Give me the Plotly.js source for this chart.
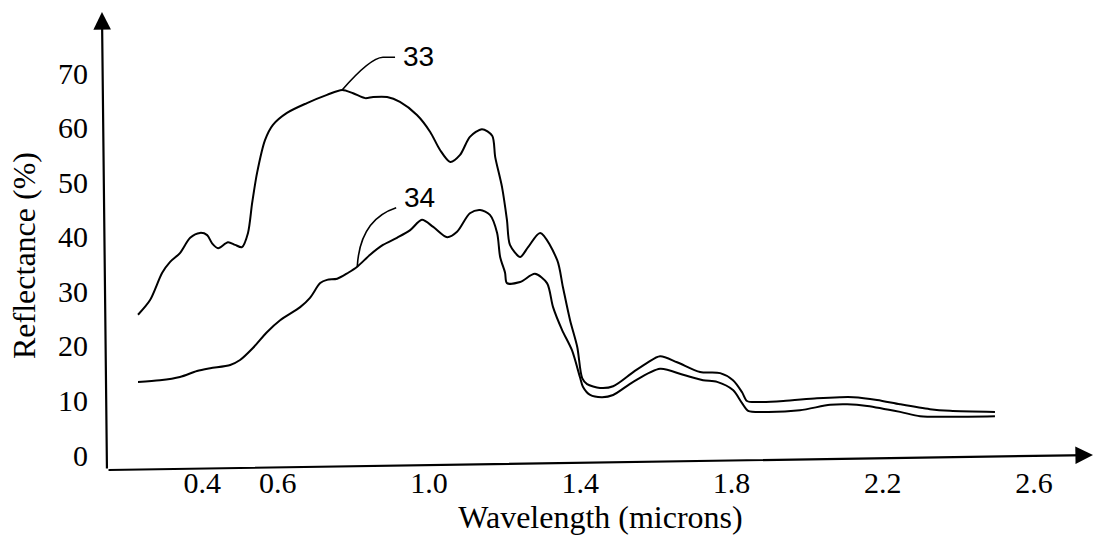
<!DOCTYPE html>
<html>
<head>
<meta charset="utf-8">
<script src="https://cdn.plot.ly/plotly-3.0.1.min.js"></script>
<style>html,body{margin:0;padding:0;background:#fff;}#chart{width:1094px;height:535px;}</style>
</head>
<body>
<div id="chart"></div>
<script>
// Curve 33 (upper) — wavelength (microns) and reflectance (%)
const wavelength33 = [0.230,0.262,0.294,0.315,0.341,0.368,0.394,0.413,0.426,0.442,0.468,0.487,0.505,0.521,0.532,0.545,0.566,0.587,0.624,0.677,0.730,0.770,0.799,0.831,0.852,0.889,0.923,0.968,1.003,1.029,1.056,1.082,1.108,1.140,1.167,1.175,1.193,1.206,1.214,1.241,1.262,1.294,1.339,1.354,1.373,1.392,1.405,1.418,1.452,1.487,1.540,1.577,1.611,1.656,1.717,1.770,1.804,1.828,1.841,1.868,1.937,2.026,2.087,2.122,2.185,2.246,2.325,2.378,2.497];
const reflect33 = [25.7,28.4,33.4,35.4,37.0,39.8,40.7,40.3,38.8,37.9,39.0,38.5,38.1,40.7,46.2,51.7,57.7,60.5,62.7,64.5,66.0,66.9,66.3,65.4,65.6,65.6,64.7,62.3,59.2,55.9,53.7,55.0,58.3,59.7,58.5,54.6,49.1,43.1,38.5,36.3,38.1,40.7,35.7,30.8,24.7,19.8,14.1,13.0,12.3,12.6,15.2,16.9,18.1,17.0,15.2,15.0,13.7,11.5,9.9,9.7,9.9,10.4,10.6,10.6,10.1,9.3,8.4,8.1,7.9];

// Curve 34 (lower)
const wavelength34 = [0.230,0.288,0.341,0.386,0.421,0.474,0.500,0.534,0.571,0.606,0.659,0.685,0.712,0.730,0.757,0.786,0.810,0.844,0.878,0.915,0.950,0.981,1.011,1.048,1.074,1.108,1.135,1.161,1.180,1.188,1.201,1.206,1.241,1.280,1.312,1.328,1.352,1.378,1.399,1.407,1.426,1.458,1.487,1.540,1.611,1.672,1.725,1.762,1.804,1.828,1.844,1.894,1.981,2.061,2.106,2.159,2.246,2.299,2.378,2.497];
const reflect34 = [13.4,13.7,14.3,15.4,15.9,16.5,17.4,19.6,22.5,24.7,27.1,28.8,31.5,32.1,32.3,33.4,34.5,36.7,38.5,39.8,41.2,43.1,41.8,39.9,40.9,44.3,44.9,44.0,40.7,36.3,33.4,31.5,31.7,33.2,31.5,27.1,22.9,19.2,14.3,12.5,11.0,10.6,11.0,13.4,15.8,14.7,13.7,13.4,11.9,9.5,8.1,7.9,8.2,9.2,9.3,9.0,7.9,7.1,7.0,7.1];

const xTickValues = [0.4,0.6,1.0,1.4,1.8,2.2,2.6];
const xTickLabels = ['0.4','0.6','1.0','1.4','1.8','2.2','2.6'];
const yTickValues = [0,10,20,30,40,50,60,70];
const yTickLabels = ['0','10','20','30','40','50','60','70'];
const seriesNames = ['33','34'];

const serif = '"Liberation Serif", "Times New Roman", serif';
const sans = '"Liberation Sans", Arial, sans-serif';

const lineStyle = {color:'#000', width:2, shape:'spline', smoothing:0.8};
const traces = [
  {x: wavelength33, y: reflect33, mode:'lines', name: seriesNames[0], line: lineStyle, cliponaxis:false},
  {x: wavelength34, y: reflect34, mode:'lines', name: seriesNames[1], line: lineStyle, cliponaxis:false}
];

// anchor points of leader lines, taken from the data
const i33 = reflect33.indexOf(Math.max(...reflect33));
const i34 = wavelength34.indexOf(0.810);
const a33 = [wavelength33[i33], reflect33[i33]];
const a34 = [wavelength34[i34], reflect34[i34]];

const layout = {
  width:1094, height:535,
  margin:{l:107, r:0, t:56, b:80},
  paper_bgcolor:'#fff', plot_bgcolor:'#fff',
  showlegend:false,
  font:{family:serif, color:'#000', size:30},
  xaxis:{
    range:[0.148, 2.759],
    tickvals: xTickValues, ticktext: xTickLabels,
    ticks:'outside', ticklen:1, tickcolor:'rgba(0,0,0,0)',
    showgrid:false, zeroline:false, showline:false,
    tickfont:{family:serif, size:30, color:'#000'},
    title:{text:'Wavelength (microns)', font:{family:serif, size:32, color:'#000'}, standoff:7},
    automargin:false
  },
  yaxis:{
    range:[0, 73.12],
    tickvals: yTickValues, ticktext: yTickLabels,
    ticks:'outside', ticklen:12, tickcolor:'rgba(0,0,0,0)',
    showgrid:false, zeroline:false, showline:false,
    tickfont:{family:serif, size:30, color:'#000'},
    title:{text:'Reflectance (%)', font:{family:serif, size:32, color:'#000'}, standoff:12},
    automargin:false
  },
  annotations:[
    // x axis with arrow
    {xref:'paper', yref:'paper', x:0.999, y:0.0, ax:-986, ay:15, axref:'pixel', ayref:'pixel',
     text:'', showarrow:true, arrowhead:2, arrowsize:1.6, arrowwidth:2.2, arrowcolor:'#000'},
    // y axis with arrow
    {xref:'paper', yref:'paper', x:-0.0051, y:1.1103, ax:5, ay:458, axref:'pixel', ayref:'pixel',
     text:'', showarrow:true, arrowhead:2, arrowsize:1.6, arrowwidth:2.2, arrowcolor:'#000'},
    {xref:'x', yref:'y', x:0.971, y:73.1, text:seriesNames[0], showarrow:false,
     font:{family:sans, size:28, color:'#000'}},
    {xref:'x', yref:'y', x:0.974, y:47.1, text:seriesNames[1], showarrow:false,
     font:{family:sans, size:28, color:'#000'}}
  ],
  shapes:[
    {type:'path', xref:'x', yref:'y', line:{color:'#000', width:1.6},
     path:'M 0.910,72.9 L 0.878,72.9 Q 0.844,72.8 ' + a33[0] + ',' + a33[1]},
    {type:'path', xref:'x', yref:'y', line:{color:'#000', width:1.6},
     path:'M 0.913,45.3 Q 0.817,43.1 ' + a34[0] + ',' + a34[1]}
  ]
};

Plotly.newPlot('chart', traces, layout, {displayModeBar:false, staticPlot:true});
</script>
</body>
</html>
